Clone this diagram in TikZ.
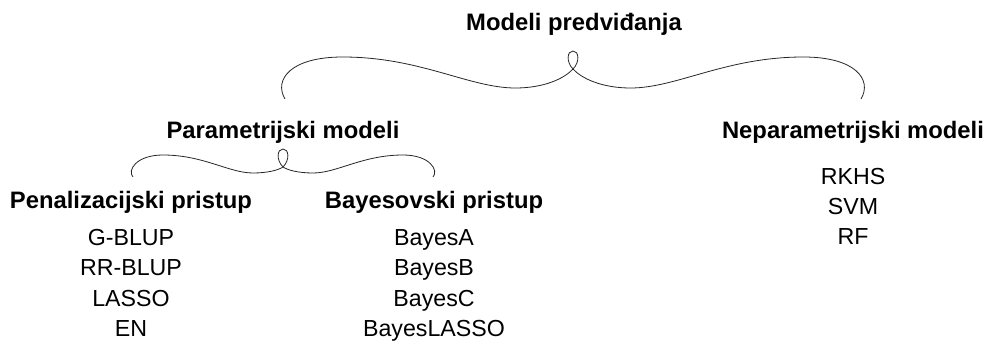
\documentclass[tikz,border=0pt]{standalone}
\usepackage{fontspec}
\setmainfont{Liberation Sans}
\usepackage{tikz}
\usetikzlibrary{positioning}
\tikzset{head/.style = {font = \fontsize{17.85}{20}\selectfont\bfseries, anchor = base, inner sep = 0}}
\tikzset{item/.style = {font = \fontsize{17.4}{20}\selectfont, anchor = base, inner sep = 0}}
\tikzset{brace line/.style = {line width = 0.6pt, black!85}}
\newcommand{\curlybrace}[4]{%
  \begin{scope}[shift={(#1)}]
    \foreach \s in {1,-1}
      \draw [brace line, xscale=\s] (-#2, #3) .. controls ({-1.04*#2}, {0.35*#3}) and ({-0.98*#2}, -12) .. ({-0.8*#2}, -12)
        .. controls ({-0.53*#2}, -12) and ({-0.36*#2}, #4) .. ({-0.2*#2}, #4)
        .. controls ({-0.1*#2}, #4) and ({-0.03*#2}, {0.5*#4}) .. (0, 0);
    \draw [brace line] (0, 0) .. controls (7, -7) and (6, -18) .. (0, -18) .. controls (-6, -18) and (-7, -7) .. (0, 0);
  \end{scope}}

\begin{document}
\begin{tikzpicture}[x=0.75pt, y=-0.75pt]
    \useasboundingbox (0, 0) rectangle (993, 356);

    \node [head] (top) at (574, 30.5) {Modeli predviđanja};
    \node [head] (par) at (283, 138.5) {Parametrijski modeli};
    \node [head] (nepar) at (853, 138.5) {Neparametrijski modeli};
    \node [head] (pen) at (131, 208.5) {Penalizacijski pristup};
    \node [head] (bay) at (434, 208.5) {Bayesovski pristup};

    \foreach \m [count=\i] in {RKHS, SVM, RF}
        \node [item] (nepar\i) at (853, {155.5 + 29.5*\i}) {\m};
    \foreach \m [count=\i] in {G-BLUP, RR-BLUP, LASSO, EN}
        \node [item] (pen\i) at (131, {216 + 30*\i}) {\m};
    \foreach \m [count=\i] in {BayesA, BayesB, BayesC, BayesLASSO}
        \node [item] (bay\i) at (434, {216 + 30*\i}) {\m};

    \coordinate (topcusp) at (573, 69);
    \coordinate (parcusp) at (283, 167);

    \curlybrace{topcusp}{288}{30}{19}
    \curlybrace{parcusp}{150}{10}{6}
  \end{tikzpicture}
\end{document}
